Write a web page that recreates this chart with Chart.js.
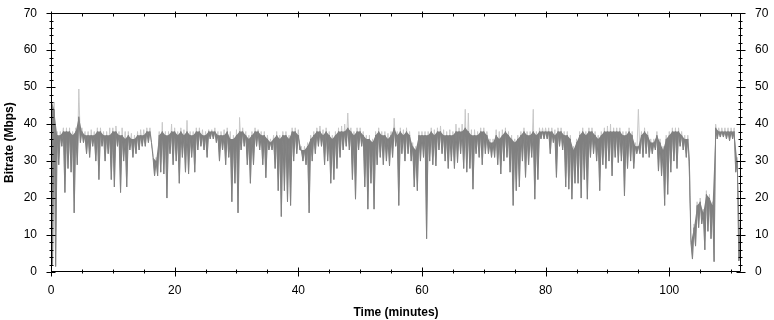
<!DOCTYPE html>
<html><head><meta charset="utf-8">
<script src="https://cdn.jsdelivr.net/npm/chart.js@4.4.1/dist/chart.umd.min.js"></script>
<style>html,body{margin:0;padding:0;background:#fff;}#wrap{width:774px;height:320px;}</style>
</head><body><div id="wrap"><canvas id="c" width="774" height="320"></canvas></div>
<script>
// Bitrate trace, one entry per half-minute bin (start at 0 min)
const binMinutes = 0.5;
// upper edge of the dark trace within each bin (Mbps)
const binHigh = [
 47,44,37,37,38,38,38,37,38,42,
 38,37,37,37,37,38,38,37,37,37,
 38,38,37,37,36,37,36,36,37,37,
 37,38,38,31,30,37,38,37,37,38,
 38,37,38,37,38,37,37,38,38,37,
 37,38,38,38,37,37,37,38,36,36,
 37,38,38,37,36,37,38,38,37,37,
 36,35,36,37,36,37,37,36,38,38,
 37,33,33,34,36,37,38,38,37,38,
 37,36,37,38,38,38,39,38,37,38,
 38,37,36,36,35,37,38,37,37,36,
 37,39,37,38,37,38,37,34,33,37,
 37,37,37,38,37,38,38,37,37,37,
 37,38,38,38,39,38,37,37,37,38,
 38,37,35,35,37,36,37,38,37,36,
 35,36,37,38,37,37,38,37,38,38,
 38,38,38,37,38,38,37,37,36,33,
 35,37,38,37,38,38,37,36,37,38,
 38,38,38,38,38,37,37,38,37,34,
 34,37,38,37,35,35,37,35,33,36,
 37,38,38,38,37,36,36,8,12,18,
 19,16,21,20,18,39,38,38,38,38,
 38,38,30,6
];
// lower edge of the dark trace within each bin (Mbps)
const binLow = [
 2,1.5,29,34,21.5,28,27,16,29,35,
 35,32,31,34,30,25,34,30,32,25,
 23,34,21.5,30,23,33,31,32,33,34,
 34,35,35,26,26,27,26.5,20,32,29,
 30,24,31,27,26.5,31,27,33,34,33,
 31,36,36,35,30,33,29,31,19,24,
 16,33,34,29,24,29,34,33,29,25.5,
 33,33,28,22,15,22,19,18,30,32,
 33,30,29,16,30,32,34,34,29,30,
 24,25,28,31,33,34,33,25,19.7,33,
 34,23,17,24,17,29,31,29,30,28.7,
 31,34,18,32,30,32,30,23,22,30,
 31,9,30,29,28.7,33,32,30,28,30,
 28,29.6,32,28,27,28,22.4,32,31,29,
 32,32,31,31,29,26.5,30,31,27,18,
 22,23,30,25.6,29,31,19.7,25,36,36,
 36,32,35,25.6,34,33,23,22.4,19.7,24,
 24,20,25,19.7,31,32,30,22,29,28,
 30,26,31,29.6,30,20.6,28,30,28,32,
 32,31,32,31,32,33,27.3,26,18,21,
 27,30,28,34,33,31,30,3.5,7,12,
 13,6,11,9,2.8,36,36.5,36.5,36,35.5,
 36,27,3,2
];
// light-grey peak trace within each bin (Mbps)
const binPeak = [
 48,46,38,38,39,39,39,38,39,49.5,
 39,38,38,38.5,38,39,39,38,38,39,
 39,39.5,38,39,38,38,37.5,37,38,38.5,
 38.5,39,39,32,31,38,40.5,38,38,40,
 39,38,39,38.5,41,38,38,39,39,38.5,
 38,38.5,38.5,39,38,38,38.5,39,38,37,
 38.5,41.8,39,38,37,38,39,38.5,38,38,
 37,36,37,38,37,38,38,37,39,39,
 38.5,34,34,35,37,38,39,39.5,38.5,39,
 38,37,38,39,39.5,40,43,39,38,39,
 39,38,37,37,36,38,39,38,38,37.5,
 38,41.6,38,39,38.5,39,38,35,34,38,
 38,38,38,39,38.5,39,39.5,38.5,38,38.5,
 38,40,39,40,44,43,38.5,38.5,38,39,
 39,38,36,36,38.5,38,38.5,39,38,37,
 36,37,38,39,38,38,44,38,39,39,
 39,39,39,38.5,39,39,38,38,37,34,
 36,38,39,38,39,39,38,37,38,39,
 39.5,40,39,39,39,38,38,39,38,35,
 44,38,39,38,36,36,38,36,34,37,
 38,39,39,39,38,37,37,9,13,19,
 20,17,22,21,19,40,39,39,39,39,
 39,39,31,7
];
const xTickLabels = [0,20,40,60,80,100];
const yTickLabels = [0,10,20,30,40,50,60,70];
const xMax = 111.6;
const xMinorStep = 5, yMinorStep = 2;

function zigzag(top, bottom){
  const pts = [];
  for (let i = 0; i < top.length; i++) {
    const t = i * binMinutes;
    pts.push({x: t, y: top[i]});
    pts.push({x: t + binMinutes / 2, y: bottom[i]});
  }
  return pts;
}
function edge(vals){
  return vals.map((v, i) => ({x: i * binMinutes, y: v}));
}

const FONT = "'Liberation Sans', Arial, sans-serif";

const tickMarks = {
  id: 'tickMarks',
  afterDraw(chart) {
    const {ctx, chartArea: a, scales} = chart;
    const xs = scales.x, ys = scales.y;
    const L = Math.round(a.left) + 0.5, R = Math.round(a.right) - 0.5;
    const T = Math.round(a.top) + 0.5, B = Math.round(a.bottom) - 0.5;
    ctx.save();
    ctx.strokeStyle = '#000';
    ctx.lineWidth = 1;
    ctx.beginPath();
    ctx.rect(L, T, R - L, B - T);
    for (let v = 0; v <= 70; v += yMinorStep) {
      const y = Math.round(ys.getPixelForValue(v)) + 0.5;
      const major = v % 10 === 0;
      ctx.moveTo(L - (major ? 5 : 2), y); ctx.lineTo(L + (major ? 4 : 2), y);
      ctx.moveTo(R - (major ? 4 : 2), y); ctx.lineTo(R + (major ? 5 : 2), y);
    }
    for (let t = 0; t <= xMax; t += xMinorStep) {
      const x = Math.round(xs.getPixelForValue(t)) + 0.5;
      const major = t % 20 === 0;
      ctx.moveTo(x, B - (major ? 4 : 2)); ctx.lineTo(x, B + (major ? 5 : 2));
      ctx.moveTo(x, T - (major ? 2 : 0)); ctx.lineTo(x, T + (major ? 4 : 3));
    }
    ctx.stroke();
    ctx.restore();
  }
};

const tickFont = {family: FONT, size: 12};
const titleFont = {family: FONT, size: 12, weight: 'bold'};
const DARK = '#808080', LIGHT = '#c8c8c8';

new Chart(document.getElementById('c'), {
  type: 'line',
  data: {
    datasets: [
      {data: zigzag(binHigh, binLow), borderColor: DARK, borderWidth: 1, pointRadius: 0, tension: 0,
       fill: {target: 2, above: DARK, below: DARK}, order: 0},
      {data: zigzag(binPeak, binLow), borderColor: LIGHT, borderWidth: 1, pointRadius: 0, tension: 0, fill: false, order: 2},
      {data: edge(binHigh), borderColor: 'rgba(0,0,0,0)', borderWidth: 0, pointRadius: 0, tension: 0, fill: false, order: 1}
    ]
  },
  options: {
    responsive: false,
    animation: false,
    parsing: false,
    normalized: true,
    layout: {padding: {top: 11, left: 0, right: 0, bottom: 0}},
    plugins: {legend: {display: false}, tooltip: {enabled: false}, filler: {propagate: false}},
    scales: {
      x: {
        type: 'linear', position: 'bottom', min: 0, max: xMax,
        grid: {display: false}, border: {display: false},
        afterBuildTicks: s => { s.ticks = xTickLabels.map(v => ({value: v})); },
        afterFit: s => { s.height = 48; },
        ticks: {font: tickFont, color: '#000', padding: 3, maxRotation: 0},
        title: {display: true, text: 'Time (minutes)', font: titleFont, color: '#000', padding: {top: 10, bottom: 0}}
      },
      y: {
        type: 'linear', position: 'left', min: 0, max: 70,
        grid: {display: false}, border: {display: false},
        afterBuildTicks: s => { s.ticks = yTickLabels.map(v => ({value: v})); },
        afterFit: s => { s.width = 51; },
        ticks: {font: tickFont, color: '#000', padding: 6},
        title: {display: true, text: 'Bitrate (Mbps)', font: titleFont, color: '#000', padding: {top: 2, bottom: 0}}
      },
      y2: {
        type: 'linear', position: 'right', min: 0, max: 70,
        grid: {display: false}, border: {display: false},
        afterBuildTicks: s => { s.ticks = yTickLabels.map(v => ({value: v})); },
        afterFit: s => { s.width = 33; },
        ticks: {font: tickFont, color: '#000', padding: 6}
      }
    }
  },
  plugins: [tickMarks]
});
</script>
</body></html>
